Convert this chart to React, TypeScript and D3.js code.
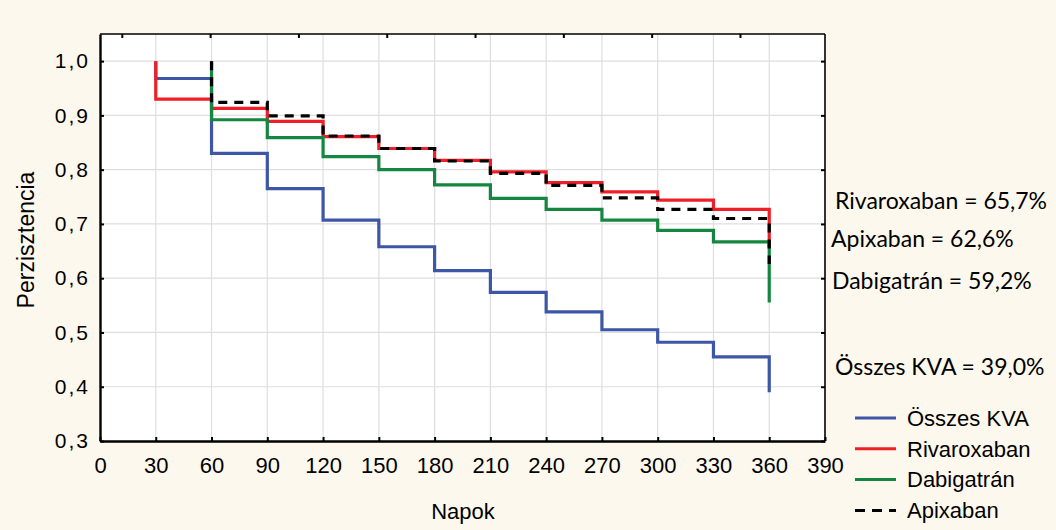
import React, { useEffect, useRef } from 'react';
import * as d3 from 'd3';

// Kaplan-Meier style persistence curves, value at each 30-day step
const days = [30, 60, 90, 120, 150, 180, 210, 240, 270, 300, 330, 360];
const osszesKva = [0.968, 0.830, 0.765, 0.707, 0.658, 0.614, 0.574, 0.538, 0.505, 0.482, 0.455, 0.390];
const rivaroxaban = [0.930, 0.913, 0.889, 0.861, 0.839, 0.817, 0.796, 0.776, 0.759, 0.744, 0.727, 0.657];
const dabigatran = [null, 0.892, 0.859, 0.824, 0.800, 0.772, 0.747, 0.727, 0.707, 0.688, 0.667, 0.555];
const apixaban = [null, 0.924, 0.899, 0.862, 0.839, 0.816, 0.793, 0.771, 0.748, 0.727, 0.710, 0.626];

const seriesNames = ['Összes KVA', 'Rivaroxaban', 'Dabigatrán', 'Apixaban'];
const seriesColors = ['#3d56a6', '#ee1f26', '#148640', '#000000'];
const startValue = 1.0;

const summaryLabels = ['Rivaroxaban = 65,7%', 'Apixaban = 62,6%', 'Dabigatrán = 59,2%', 'Összes KVA = 39,0%'];

const xTicks = [0, 30, 60, 90, 120, 150, 180, 210, 240, 270, 300, 330, 360, 390];
const yTicks = [0.3, 0.4, 0.5, 0.6, 0.7, 0.8, 0.9, 1.0];
const topTicks = [0, 1, 2, 3, 4, 5, 6, 7];

const W = 1056;
const H = 530;
const AXIS_FONT = '"Liberation Sans", Arial, sans-serif';
const NOTE_FONT = 'Lato, "Open Sans", sans-serif';

function Chart() {
  const ref = useRef<SVGSVGElement>(null);

  useEffect(() => {
    const svg = d3.select(ref.current);
    svg.selectAll('*').remove();

    const left = 100, right = 825, top = 34, bottom = 441;

    const x = d3.scaleLinear().domain([0, 390]).range([left, right]);
    const y = d3.scaleLinear().domain([0.3, 1.05]).range([bottom, top]);
    const xTop = d3.scaleLinear().domain([-0.247, 7.963]).range([left, right]);

    svg.append('rect').attr('width', W).attr('height', H).attr('fill', '#fdf8ed');
    svg.append('rect')
      .attr('x', left).attr('y', top)
      .attr('width', right - left).attr('height', bottom - top)
      .attr('fill', '#ffffff');

    // grid
    const grid = svg.append('g').attr('stroke', '#dedede').attr('stroke-width', 1.2);
    grid.selectAll('.vg')
      .data(xTicks.filter(d => d > 0 && d < 390))
      .enter().append('line')
      .attr('x1', d => x(d)).attr('x2', d => x(d))
      .attr('y1', top).attr('y2', bottom);
    grid.selectAll('.hg')
      .data(yTicks.filter(d => d > 0.3))
      .enter().append('line')
      .attr('x1', left).attr('x2', right)
      .attr('y1', d => y(d)).attr('y2', d => y(d));

    // curves
    const line = d3.line<[number, number]>()
      .x(d => x(d[0]))
      .y(d => y(d[1]))
      .curve(d3.curveStepAfter);

    const allSeries = [osszesKva, rivaroxaban, dabigatran, apixaban];
    allSeries.forEach((vals, i) => {
      const pts: [number, number][] = [];
      vals.forEach((v, j) => {
        if (v == null) return;
        if (pts.length === 0) pts.push([days[j], startValue]);
        pts.push([days[j], v]);
      });
      svg.append('path')
        .attr('d', line(pts))
        .attr('fill', 'none')
        .attr('stroke', seriesColors[i])
        .attr('stroke-width', 3.2)
        .attr('stroke-dasharray', i === 3 ? '9,7' : null);
    });

    // frame
    const frame = svg.append('g').attr('stroke', '#000').attr('fill', 'none');
    frame.append('line').attr('x1', left).attr('x2', right).attr('y1', top).attr('y2', top).attr('stroke-width', 1.6);
    frame.append('line').attr('x1', right).attr('x2', right).attr('y1', top).attr('y2', bottom).attr('stroke-width', 1.6);

    const fmt = (d: number) => d3.format('.1f')(d).replace('.', ',');

    const xAxis = svg.append('g')
      .attr('transform', `translate(0,${bottom})`)
      .call(d3.axisBottom(x).tickValues(xTicks).tickSizeInner(-4).tickSizeOuter(0).tickPadding(16));
    xAxis.select('.domain').attr('stroke-width', 2.4);
    xAxis.selectAll('.tick line').attr('stroke-width', 2);
    xAxis.selectAll('text').attr('font-size', 22).attr('font-family', AXIS_FONT).attr('fill', '#000');

    const yAxis = svg.append('g')
      .attr('transform', `translate(${left},0)`)
      .call(d3.axisLeft(y).tickValues(yTicks).tickFormat(fmt as any).tickSizeInner(-4).tickSizeOuter(0).tickPadding(10));
    yAxis.select('.domain').attr('stroke-width', 2.4);
    yAxis.selectAll('.tick line').attr('stroke-width', 2);
    yAxis.selectAll('text').attr('font-size', 21).attr('font-family', AXIS_FONT).attr('fill', '#000')
      .attr('letter-spacing', 2);

    // inward ticks on right and top
    const rAxis = svg.append('g')
      .attr('transform', `translate(${right},0)`)
      .call(d3.axisRight(y).tickValues(yTicks).tickSizeInner(-4).tickSizeOuter(0).tickFormat(() => ''));
    rAxis.select('.domain').remove();
    rAxis.selectAll('.tick line').attr('stroke-width', 2);

    const tAxis = svg.append('g')
      .attr('transform', `translate(0,${top})`)
      .call(d3.axisTop(xTop).tickValues(topTicks).tickSizeInner(-4).tickSizeOuter(0).tickFormat(() => ''));
    tAxis.select('.domain').remove();
    tAxis.selectAll('.tick line').attr('stroke-width', 2);

    // axis titles
    svg.append('text')
      .attr('x', 463).attr('y', 519)
      .attr('text-anchor', 'middle')
      .attr('font-family', AXIS_FONT).attr('font-size', 22)
      .text('Napok');
    svg.append('text')
      .attr('transform', `translate(34,${240}) rotate(-90)`)
      .attr('text-anchor', 'middle')
      .attr('font-family', AXIS_FONT).attr('font-size', 23)
      .text('Perzisztencia');

    // summary notes
    const notePos = [[835, 209], [831, 247], [832, 289], [835, 375]];
    svg.selectAll('.note')
      .data(summaryLabels)
      .enter().append('text')
      .attr('x', (d, i) => notePos[i][0])
      .attr('y', (d, i) => notePos[i][1])
      .attr('font-family', NOTE_FONT).attr('font-size', 23)
      .text(d => d);

    // legend
    const lg = svg.append('g').attr('transform', 'translate(855,418)');
    const item = lg.selectAll('.item')
      .data(seriesNames)
      .enter().append('g')
      .attr('transform', (d, i) => `translate(0,${i * 30.8})`);
    item.append('line')
      .attr('x1', 0).attr('x2', 41).attr('y1', 0).attr('y2', 0)
      .attr('stroke', (d, i) => seriesColors[i])
      .attr('stroke-width', 3)
      .attr('stroke-dasharray', (d, i) => (i === 3 ? '10,7' : null));
    item.append('text')
      .attr('x', 52).attr('dy', '0.35em')
      .attr('font-family', AXIS_FONT).attr('font-size', 22)
      .text(d => d);
  }, []);

  return <svg ref={ref} width={W} height={H} style={{ position: 'absolute', left: 0, top: 0, display: 'block' }} />;
}

export default function App() {
  return <Chart />;
}
